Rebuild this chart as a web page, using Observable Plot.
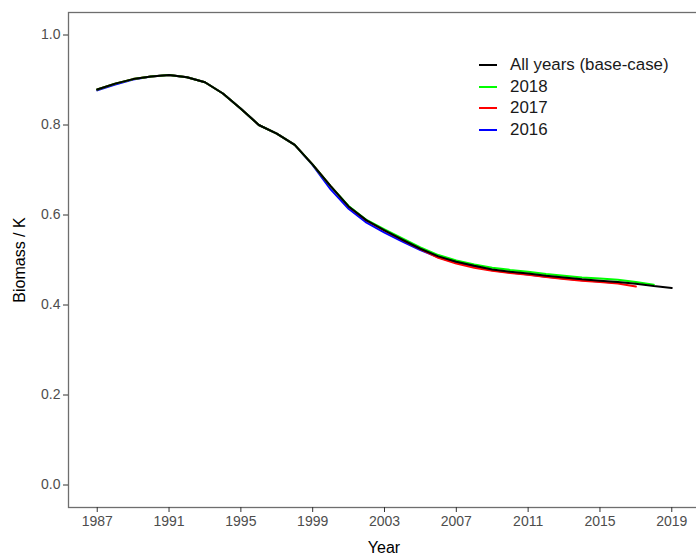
<!DOCTYPE html>
<html>
<head>
<meta charset="utf-8">
<script src="https://cdn.jsdelivr.net/npm/d3@7"></script>
<script src="https://cdn.jsdelivr.net/npm/@observablehq/plot@0.6"></script>
<style>
  html, body { margin: 0; padding: 0; background: #fff; }
  #wrap { position: relative; width: 696px; height: 555px; overflow: hidden; font-family: "Liberation Sans", Arial, sans-serif; }
  #wrap svg { max-width: none; }
  .ttl { position: absolute; color: #000; font-size: 16px; white-space: nowrap; }
  #legend { position: absolute; left: 479px; top: 54px; font-size: 16.9px; color: #1a1a1a; }
  #legend .row { height: 21.7px; display: flex; align-items: center; }
  #legend .key { width: 18px; height: 2px; margin-right: 13px; }
</style>
</head>
<body>
<div id="wrap"></div>
<script>
const years = [1987,1988,1989,1990,1991,1992,1993,1994,1995,1996,1997,1998,1999,2000,2001,2002,2003,2004,2005,2006,2007,2008,2009,2010,2011,2012,2013,2014,2015,2016,2017,2018,2019];
const baseCase = [0.879,0.892,0.902,0.908,0.911,0.906,0.895,0.870,0.836,0.800,0.781,0.756,0.712,0.664,0.619,0.588,0.566,0.545,0.525,0.508,0.496,0.487,0.479,0.474,0.470,0.465,0.461,0.457,0.454,0.451,0.447,0.442,0.438];
const run2018 = [0.879,0.892,0.902,0.908,0.911,0.906,0.895,0.870,0.836,0.800,0.781,0.756,0.712,0.664,0.620,0.589,0.568,0.548,0.528,0.511,0.499,0.490,0.483,0.478,0.474,0.469,0.465,0.461,0.459,0.456,0.451,0.445];
const run2017 = [0.879,0.892,0.902,0.908,0.911,0.906,0.895,0.870,0.836,0.800,0.781,0.756,0.712,0.664,0.619,0.588,0.566,0.545,0.524,0.505,0.492,0.483,0.476,0.471,0.467,0.462,0.458,0.454,0.451,0.448,0.441];
const run2016 = [0.877,0.890,0.901,0.908,0.911,0.906,0.895,0.870,0.836,0.800,0.781,0.756,0.711,0.657,0.614,0.583,0.561,0.541,0.522,0.506,0.494,0.485,0.477,0.472,0.468,0.463,0.459,0.455,0.452,0.449];
const seriesNames = ["All years (base-case)", "2018", "2017", "2016"];
const seriesColors = ["#000000", "#00ff00", "#ff0000", "#0000ff"];
const xTicks = [1987,1991,1995,1999,2003,2007,2011,2015,2019];
const yTicks = [0,0.2,0.4,0.6,0.8,1.0];

const toRows = vals => vals.map((v, i) => ({year: years[i], value: v}));
const rowsBase = toRows(baseCase);
const rows2018 = toRows(run2018);
const rows2017 = toRows(run2017);
const rows2016 = toRows(run2016);

const chart = Plot.plot({
  width: 700,
  height: 555,
  marginLeft: 68,
  marginRight: 0,
  marginTop: 12,
  marginBottom: 48,
  style: {fontFamily: "'Liberation Sans', Arial, sans-serif", background: "transparent"},
  x: {domain: [1985.4, 2020.6]},
  y: {domain: [-0.05, 1.05]},
  marks: [
    Plot.frame({stroke: "#6e6e6e", strokeWidth: 1.3}),
    Plot.axisX({ticks: xTicks, tickFormat: d3.format("d"), tickSize: 5, tickPadding: 4, fontSize: 14, color: "#4d4d4d", stroke: "#333", label: null}),
    Plot.axisY({ticks: yTicks, tickFormat: d3.format(".1f"), tickSize: 5, tickPadding: 3, fontSize: 14, color: "#4d4d4d", stroke: "#333", label: null}),
    Plot.line(rows2016, {x: "year", y: "value", stroke: seriesColors[3], strokeWidth: 2}),
    Plot.line(rows2017, {x: "year", y: "value", stroke: seriesColors[2], strokeWidth: 2}),
    Plot.line(rows2018, {x: "year", y: "value", stroke: seriesColors[1], strokeWidth: 2}),
    Plot.line(rowsBase, {x: "year", y: "value", stroke: seriesColors[0], strokeWidth: 2})
  ]
});
const wrap = document.getElementById("wrap");
wrap.appendChild(chart);

const xt = document.createElement("div");
xt.className = "ttl";
xt.textContent = "Year";
xt.style.left = "384px"; xt.style.top = "548px"; xt.style.transform = "translate(-50%,-50%)";
wrap.appendChild(xt);

const yt = document.createElement("div");
yt.className = "ttl";
yt.textContent = "Biomass / K";
yt.style.left = "20px"; yt.style.top = "260px"; yt.style.transform = "translate(-50%,-50%) rotate(-90deg)";
wrap.appendChild(yt);

const lg = document.createElement("div");
lg.id = "legend";
seriesNames.forEach((n, i) => {
  const r = document.createElement("div");
  r.className = "row";
  const k = document.createElement("div");
  k.className = "key";
  k.style.background = seriesColors[i];
  const t = document.createElement("span");
  t.textContent = n;
  r.appendChild(k); r.appendChild(t);
  lg.appendChild(r);
});
wrap.appendChild(lg);
</script>
</body>
</html>
